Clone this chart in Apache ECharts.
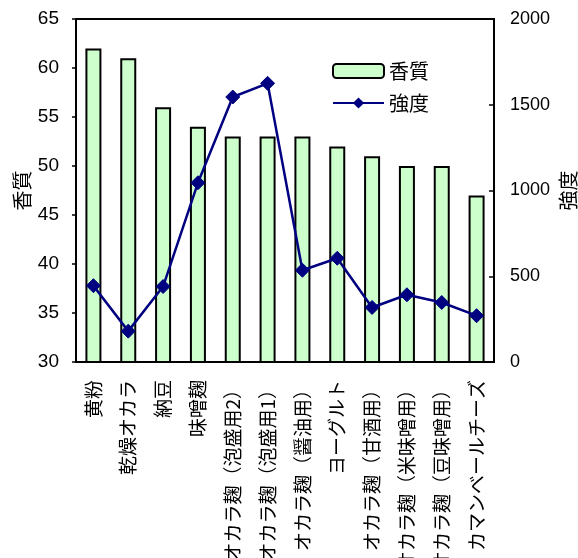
<!DOCTYPE html>
<html>
<head>
<meta charset="utf-8">
<script src="https://cdn.jsdelivr.net/npm/echarts@6/dist/echarts.min.js"></script>
<style>
  html, body { margin: 0; padding: 0; background: #fff; }
  #chart { width: 578px; height: 558px; }
</style>
</head>
<body>
<div id="chart"></div>
<script>
// Samples (x axis)
const categories = ['黄粉', '乾燥オカラ', '納豆', '味噌麹', 'オカラ麹（泡盛用2）', 'オカラ麹（泡盛用1）',
  'オカラ麹（醤油用）', 'ヨーグルト', 'オカラ麹（甘酒用）', 'オカラ麹（米味噌用）', 'オカラ麹（豆味噌用）', 'カマンベールチーズ'];
// Aroma quality score (left axis, bars)
const quality = [62, 61, 56, 54, 53, 53, 53, 52, 51, 50, 50, 47];
// Aroma intensity (right axis, line)
const intensity = [445, 180, 440, 1045, 1545, 1625, 535, 605, 318, 392, 347, 270];

const FONT = '"Liberation Sans", Arial, "Noto Sans CJK JP", sans-serif';
const JP = '"Noto Sans CJK JP", sans-serif';

const chart = echarts.init(document.getElementById('chart'), null, { renderer: 'canvas' });
chart.setOption({
  animation: false,
  backgroundColor: '#ffffff',
  textStyle: { fontFamily: FONT, color: '#000' },
  grid: {
    left: 76, right: 84, top: 19, bottom: 196,
    outerBoundsMode: 'none', containLabel: false,
    show: true, borderColor: '#000', borderWidth: 2, backgroundColor: 'transparent'
  },
  legend: {
    orient: 'vertical',
    left: 327, top: 56,
    itemWidth: 51, itemHeight: 14, itemGap: 12,
    textStyle: { fontSize: 20, fontFamily: JP, color: '#000' },
    data: ['香質', '強度']
  },
  xAxis: {
    type: 'category',
    data: categories,
    axisLine: { lineStyle: { color: '#000', width: 2 } },
    axisTick: { inside: true, length: 5, lineStyle: { color: '#000', width: 1.5 } },
    axisLabel: {
      rotate: 90, interval: 0, margin: 18,
      fontSize: 19, fontFamily: JP, color: '#000'
    }
  },
  yAxis: [
    {
      type: 'value', min: 30, max: 65, interval: 5,
      name: '香質', nameLocation: 'middle', nameGap: 44, nameRotate: 90,
      nameMoveOverlap: false,
      nameTextStyle: { fontSize: 20, fontFamily: JP, color: '#000' },
      axisLine: { show: true, lineStyle: { color: '#000', width: 2 } },
      axisTick: { show: true, length: 4, lineStyle: { color: '#000', width: 1.5 } },
      splitLine: { show: false },
      axisLabel: { fontSize: 19, color: '#000', margin: 17 }
    },
    {
      type: 'value', min: 0, max: 2000, interval: 500,
      name: '強度', nameLocation: 'middle', nameGap: 64, nameRotate: 90,
      nameMoveOverlap: false,
      nameTextStyle: { fontSize: 20, fontFamily: JP, color: '#000' },
      axisLine: { show: true, lineStyle: { color: '#000', width: 2 } },
      axisTick: { show: true, inside: true, length: 5, lineStyle: { color: '#000', width: 1.5 } },
      splitLine: { show: false },
      axisLabel: { fontSize: 18, color: '#000', margin: 16, formatter: (v) => String(v) }
    }
  ],
  series: [
    {
      name: '香質', type: 'bar', yAxisIndex: 0,
      data: quality,
      barWidth: 16,
      itemStyle: { color: '#ccffcc', borderColor: '#000', borderWidth: 2 }
    },
    {
      name: '強度', type: 'line', yAxisIndex: 1,
      data: intensity,
      symbol: 'diamond', symbolSize: 14,
      lineStyle: { color: '#000080', width: 2.5 },
      itemStyle: { color: '#000080', borderColor: '#000080' }
    }
  ]
});
</script>
</body>
</html>
